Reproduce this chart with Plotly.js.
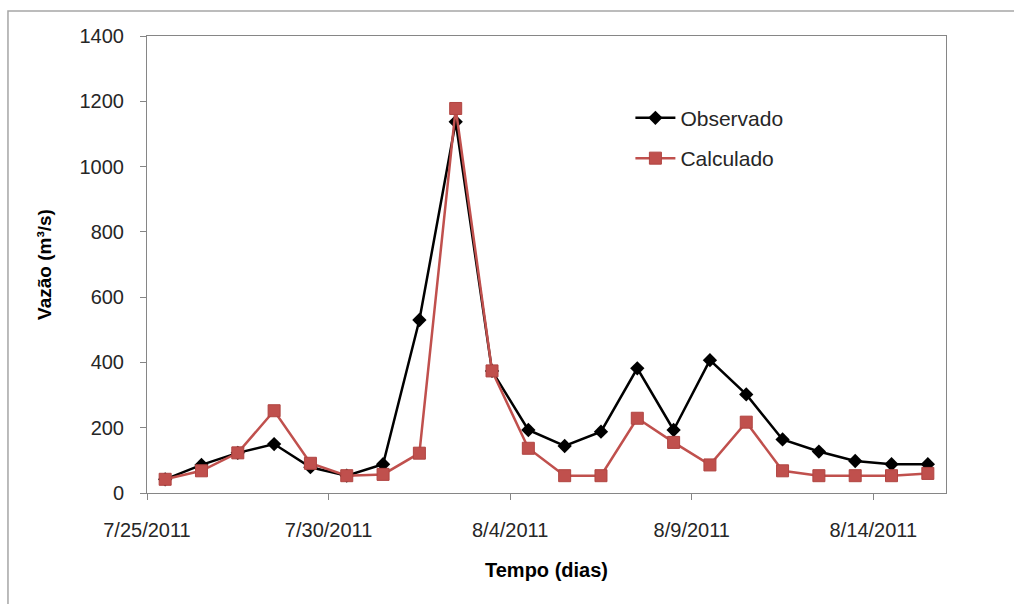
<!DOCTYPE html>
<html>
<head>
<meta charset="utf-8">
<script src="https://cdn.plot.ly/plotly-3.0.1.min.js"></script>
<style>html,body{margin:0;padding:0;background:#fff;}#chart{width:1014px;height:604px;}</style>
</head>
<body>
<div id="chart"></div>
<script>
const dates = ['2011-07-25','2011-07-26','2011-07-27','2011-07-28','2011-07-29','2011-07-30','2011-07-31','2011-08-01','2011-08-02','2011-08-03','2011-08-04','2011-08-05','2011-08-06','2011-08-07','2011-08-08','2011-08-09','2011-08-10','2011-08-11','2011-08-12','2011-08-13','2011-08-14','2011-08-15'];
const observado = [42, 86, 123, 150, 79, 53, 88, 530, 1137, 374, 193, 144, 188, 382, 193, 407, 302, 164, 127, 98, 88, 88];
const calculado = [42, 68, 123, 252, 91, 53, 57, 122, 1178, 374, 137, 53, 53, 229, 155, 86, 217, 68, 53, 53, 53, 60];
const xRange = ['2011-07-25', '2011-08-16'];
const yTicks = [0, 200, 400, 600, 800, 1000, 1200, 1400];

const DAY = 86400000;
const tickFont = {family: 'Liberation Sans, Arial, sans-serif', size: 20, color: '#262626'};

const traces = [
  {
    x: dates, y: observado, name: 'Observado', type: 'scatter', mode: 'lines+markers',
    xperiod: DAY, xperiodalignment: 'middle',
    line: {color: '#000000', width: 2.5},
    marker: {symbol: 'diamond', size: 11, color: '#000000'},
    legendgroup: 'a'
  },
  {
    x: dates, y: calculado, name: 'Calculado', type: 'scatter', mode: 'lines+markers',
    xperiod: DAY, xperiodalignment: 'middle',
    line: {color: '#C0504D', width: 2.5},
    marker: {symbol: 'square', size: 12, color: '#C0504D', line: {color: '#B04441', width: 1}},
    legendgroup: 'b'
  }
];

const layout = {
  width: 1014, height: 604,
  margin: {l: 147, r: 68, t: 36, b: 111},
  paper_bgcolor: '#ffffff', plot_bgcolor: '#ffffff',
  showlegend: true,
  legend: {
    x: 0.605, y: 0.865, xanchor: 'left', yanchor: 'top',
    font: {family: 'Liberation Sans, Arial, sans-serif', size: 21, color: '#262626'},
    bgcolor: 'rgba(0,0,0,0)', tracegroupgap: 10, itemwidth: 40
  },
  xaxis: {
    type: 'date', range: xRange,
    tick0: '2011-07-25', dtick: 5 * DAY, tickformat: '%-m/%-d/%Y',
    ticks: 'outside', ticklen: 6, tickcolor: '#868686', tickwidth: 1,
    showline: true, linecolor: '#868686', linewidth: 1, mirror: true,
    showgrid: false, zeroline: false,
    tickfont: tickFont, ticklabelstandoff: 13,
    title: {text: '<b>Tempo (dias)</b>', font: {family: 'Liberation Sans, Arial, sans-serif', size: 20, color: '#000'}, standoff: 22}
  },
  yaxis: {
    range: [0, 1400], tickvals: yTicks,
    ticks: 'outside', ticklen: 6, tickcolor: '#868686', tickwidth: 1,
    showline: true, linecolor: '#868686', linewidth: 1, mirror: true,
    showgrid: false, zeroline: false,
    tickfont: tickFont, ticklabelstandoff: 12,
    title: {text: '<b>Vazão (m³/s)</b>', font: {family: 'Liberation Sans, Arial, sans-serif', size: 19, color: '#000'}, standoff: 22}
  },
  shapes: [
    {type: 'rect', xref: 'paper', yref: 'paper', x0: -0.174, x1: 1.2, y0: -0.3, y1: 1.0547,
     line: {color: '#A6A6A6', width: 1.5}, fillcolor: 'rgba(0,0,0,0)', layer: 'below'}
  ]
};

Plotly.newPlot('chart', traces, layout, {displayModeBar: false, staticPlot: true});
</script>
</body>
</html>
